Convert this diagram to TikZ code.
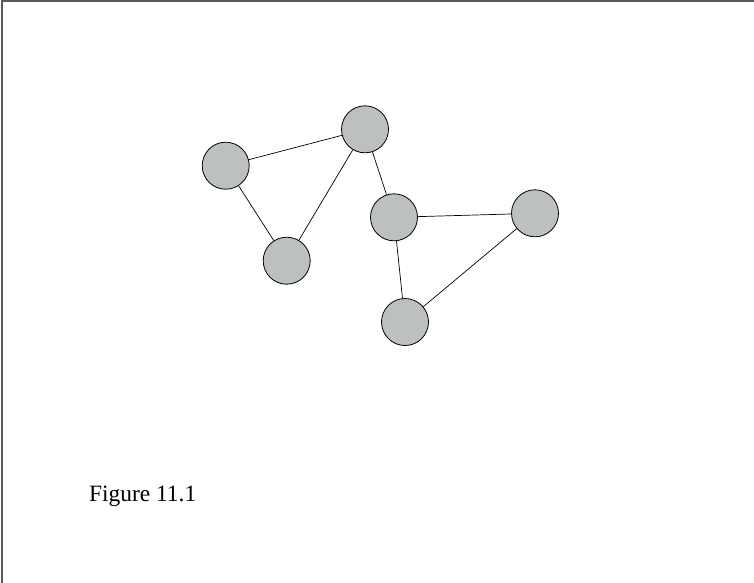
\documentclass[tikz,border=0pt]{standalone}
\usepackage{tikz}
\usepackage{xcolor}
\usepackage{fontspec}
\newfontfamily\capfont{Liberation Serif}

\definecolor{vertgray}{RGB}{188,192,190}

\begin{document}
\begin{tikzpicture}[
  x=1pt, y=-1pt,
  vert/.style={draw, circle, fill=vertgray, line width=0.8pt,
    minimum size=47pt, inner sep=0pt},
  edge/.style={line width=0.7pt},
  caption/.style={anchor=base west, inner sep=0pt,
    font=\capfont\fontsize{23.4}{28}\selectfont},
]
\useasboundingbox (0, 0) rectangle (754, 582);
\draw[gray!70!black, line width=1.2pt] (2, 600) -- (2, 1) -- (760, 1);

\node[vert] (a) at (225.7, 165.7) {};
\node[vert] (b) at (365, 129.3) {};
\node[vert] (c) at (286.7, 260.7) {};
\node[vert] (d) at (394, 217.3) {};
\node[vert] (e) at (535, 213.3) {};
\node[vert] (f) at (405, 322) {};

\draw[edge] (a) -- (b);
\draw[edge] (a) -- (c);
\draw[edge] (b) -- (c);
\draw[edge] (b) -- (d);
\draw[edge] (d) -- (e);
\draw[edge] (d) -- (f);
\draw[edge] (e) -- (f);

\node[caption] (fig) at (89, 501) {Figure 11.1};

\end{tikzpicture}
\end{document}
